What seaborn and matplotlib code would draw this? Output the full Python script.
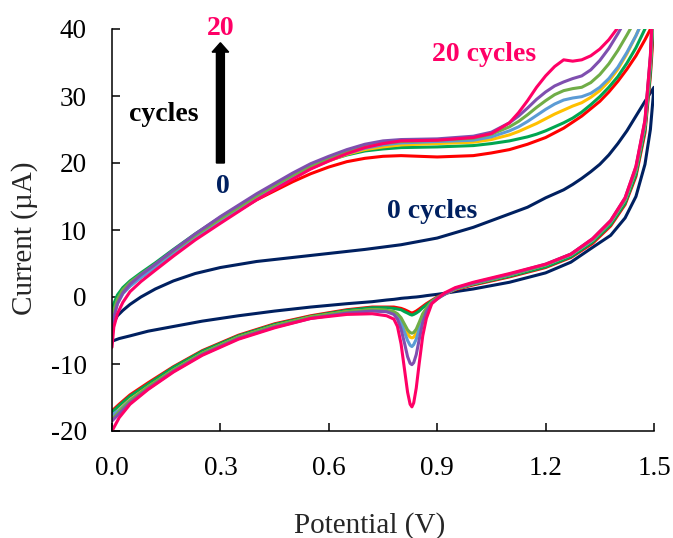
import numpy as np
import pandas as pd
import seaborn as sns
import matplotlib.pyplot as plt
from matplotlib.ticker import FormatStrFormatter

# potential grids (V): forward scan 0 -> 1.5, reverse scan 1.5 -> 0
fwd_v = [0.0, 0.005, 0.015, 0.03, 0.05, 0.08, 0.12, 0.17, 0.23, 0.3,
         0.4, 0.5, 0.55, 0.6, 0.65, 0.7, 0.75, 0.8, 0.9, 1.0,
         1.05, 1.1, 1.125, 1.15, 1.175, 1.2, 1.225, 1.25, 1.275, 1.3,
         1.325, 1.35, 1.375, 1.4, 1.425, 1.45, 1.475, 1.5]
rev_v = [1.5, 1.49, 1.475, 1.45, 1.42, 1.38, 1.33, 1.27, 1.2, 1.1,
         1.0, 0.95, 0.92, 0.9, 0.885, 0.87, 0.86, 0.85, 0.842, 0.835,
         0.83, 0.825, 0.818, 0.81, 0.8, 0.79, 0.78, 0.76, 0.72, 0.65,
         0.55, 0.45, 0.35, 0.25, 0.17, 0.1, 0.05, 0.02, 0.0]

# currents (uA)
navy_fwd = [-5.0, -3.8, -2.8, -2.0, -1.1, 0.0, 1.2, 2.4, 3.5, 4.4,
            5.3, 5.9, 6.2, 6.5, 6.8, 7.1, 7.45, 7.8, 8.8, 10.4,
            11.4, 12.4, 12.9, 13.4, 14.1, 14.8, 15.4, 16.0, 16.8, 17.7,
            18.7, 19.8, 21.2, 22.9, 24.8, 27.0, 29.2, 31.3]
navy_rev = [31.3, 25.0, 19.8, 15.0, 11.8, 9.2, 7.4, 5.2, 3.6, 2.2,
            1.2, 0.8, 0.55, 0.4, 0.3, 0.2, 0.12, 0.05, 0.0, -0.03,
            -0.05, -0.08, -0.12, -0.15, -0.2, -0.28, -0.35, -0.45, -0.7, -1.0,
            -1.5, -2.1, -2.8, -3.6, -4.4, -5.1, -5.8, -6.2, -6.6]

red_fwd = [-4.0, -2.0, -0.5, 0.8, 1.8, 3.0, 4.5, 6.5, 8.8, 11.3,
           14.5, 17.2, 18.4, 19.4, 20.2, 20.7, 21.0, 21.1, 20.9, 21.1,
           21.5, 22.0, 22.4, 22.8, 23.3, 23.8, 24.5, 25.2, 26.1, 27.0,
           28.1, 29.2, 30.6, 32.2, 34.0, 36.0, 38.4, 41.0]
red_rev = [41.0, 33.0, 24.5, 18.0, 13.8, 10.6, 8.0, 5.9, 4.4, 3.0,
           1.8, 1.1, 0.5, 0.0, -0.5, -1.0, -1.4, -1.8, -2.1, -2.3,
           -2.4, -2.3, -2.1, -1.9, -1.7, -1.6, -1.5, -1.5, -1.5, -1.9,
           -2.8, -4.0, -5.7, -8.0, -10.4, -12.8, -14.6, -16.0, -17.0]

green_fwd = [-3.0, -1.0, 0.3, 1.4, 2.4, 3.6, 5.1, 7.1, 9.4, 11.9,
             15.2, 18.1, 19.4, 20.4, 21.2, 21.8, 22.1, 22.3, 22.4, 22.6,
             22.9, 23.3, 23.6, 23.9, 24.3, 24.8, 25.4, 26.0, 26.7, 27.6,
             28.7, 29.9, 31.3, 32.9, 34.9, 37.2, 40.0, 43.0]
green_rev = [43.0, 33.5, 25.0, 18.3, 14.0, 10.8, 8.2, 6.0, 4.5, 3.1,
             1.9, 1.2, 0.5, -0.1, -0.6, -1.2, -1.6, -2.1, -2.4, -2.6,
             -2.7, -2.6, -2.4, -2.2, -1.9, -1.8, -1.7, -1.6, -1.6, -2.0,
             -2.9, -4.1, -5.8, -8.1, -10.5, -13.0, -14.8, -16.2, -17.2]

yellow_fwd = [-4.5, -2.5, -0.8, 0.6, 1.7, 3.0, 4.5, 6.5, 8.8, 11.3,
              14.7, 17.8, 19.2, 20.3, 21.3, 22.0, 22.4, 22.7, 22.9, 23.1,
              23.5, 24.2, 24.7, 25.3, 25.9, 26.6, 27.3, 27.9, 28.5, 29.0,
              29.8, 30.8, 32.2, 34.0, 36.3, 39.0, 42.0, 45.0]
yellow_rev = [45.0, 35.0, 25.8, 19.0, 14.5, 11.2, 8.5, 6.3, 4.8, 3.3,
              2.0, 1.2, 0.4, -0.2, -0.8, -1.8, -2.7, -4.2, -5.4, -6.0,
              -6.1, -6.0, -5.5, -4.5, -3.3, -2.6, -2.2, -2.0, -1.9, -2.2,
              -3.0, -4.3, -6.0, -8.4, -10.9, -13.4, -15.3, -16.8, -17.8]

blue_fwd = [-5.0, -2.8, -1.0, 0.5, 1.6, 2.9, 4.4, 6.4, 8.7, 11.2,
            14.6, 17.8, 19.2, 20.4, 21.4, 22.2, 22.7, 23.0, 23.2, 23.4,
            23.9, 24.8, 25.4, 26.2, 27.1, 28.0, 28.8, 29.4, 29.7, 29.9,
            30.4, 31.3, 32.6, 34.3, 36.5, 39.0, 42.0, 45.0]
blue_rev = [45.0, 35.0, 25.8, 19.0, 14.5, 11.2, 8.5, 6.3, 4.8, 3.3,
            2.0, 1.2, 0.4, -0.3, -0.85, -1.9, -3.0, -4.8, -6.3, -7.1,
            -7.4, -7.2, -6.5, -5.3, -3.8, -2.8, -2.4, -2.1, -2.0, -2.3,
            -3.1, -4.4, -6.1, -8.5, -11.0, -13.5, -15.4, -16.9, -17.6]

olive_fwd = [-4.0, -2.0, -0.3, 1.1, 2.2, 3.4, 4.9, 6.9, 9.2, 11.7,
             15.1, 18.2, 19.5, 20.7, 21.7, 22.5, 22.9, 23.2, 23.4, 23.7,
             24.3, 25.4, 26.2, 27.2, 28.3, 29.3, 30.2, 30.8, 31.1, 31.3,
             32.0, 33.2, 34.8, 36.8, 39.1, 41.5, 43.8, 46.0]
olive_rev = [46.0, 35.5, 26.0, 19.1, 14.6, 11.3, 8.6, 6.4, 4.8, 3.3,
             2.0, 1.2, 0.4, -0.1, -0.7, -1.7, -2.5, -3.8, -4.8, -5.3,
             -5.4, -5.3, -4.9, -4.1, -3.1, -2.5, -2.2, -2.0, -1.9, -2.2,
             -3.0, -4.3, -6.0, -8.4, -10.9, -13.4, -15.5, -17.1, -18.3]

purple_fwd = [-5.5, -3.0, -1.0, 0.6, 1.9, 3.3, 4.9, 7.0, 9.4, 12.0,
              15.4, 18.5, 19.9, 21.0, 22.0, 22.8, 23.3, 23.5, 23.6, 24.0,
              24.6, 26.0, 27.0, 28.2, 29.5, 30.6, 31.5, 32.1, 32.6, 33.0,
              33.9, 35.3, 37.1, 39.3, 41.7, 44.0, 46.0, 48.0]
purple_rev = [48.0, 36.0, 26.3, 19.4, 14.8, 11.4, 8.7, 6.4, 4.9, 3.4,
              2.1, 1.3, 0.4, -0.2, -0.9, -2.2, -3.8, -6.4, -8.6, -9.8,
              -10.1, -9.9, -8.9, -7.0, -4.8, -3.3, -2.6, -2.2, -2.1, -2.4,
              -3.2, -4.5, -6.2, -8.6, -11.1, -13.7, -15.8, -17.4, -18.5]

pink_fwd = [-7.5, -4.5, -2.5, -0.8, 0.8, 2.3, 4.0, 6.1, 8.5, 11.0,
            14.5, 17.6, 19.1, 20.3, 21.4, 22.3, 22.9, 23.3, 23.4, 23.8,
            24.4, 26.0, 27.5, 29.3, 31.3, 33.0, 34.4, 35.4, 35.2, 35.4,
            36.0, 37.0, 38.4, 40.2, 42.2, 44.0, 46.0, 48.0]
pink_rev = [48.0, 36.0, 26.4, 19.5, 14.8, 11.4, 8.7, 6.4, 4.9, 3.5,
            2.2, 1.4, 0.6, -0.3, -1.0, -3.2, -5.8, -10.0, -13.6, -15.8,
            -16.4, -16.0, -14.2, -11.0, -7.0, -4.4, -3.3, -2.8, -2.5, -2.6,
            -3.2, -4.6, -6.3, -8.7, -11.2, -13.8, -16.0, -18.0, -20.0]

curve_names = ["0 cycles", "c1", "c2", "c3", "c4", "c5", "c6", "20 cycles"]
curve_colors = ["#002060", "#FF0000", "#00A650", "#FFC000", "#5B9BD5", "#70AD47",
                "#7F4FAF", "#FF0066"]
curve_fwd = [navy_fwd, red_fwd, green_fwd, yellow_fwd, blue_fwd, olive_fwd, purple_fwd, pink_fwd]
curve_rev = [navy_rev, red_rev, green_rev, yellow_rev, blue_rev, olive_rev, purple_rev, pink_rev]

frames = []
for name, f, r in zip(curve_names, curve_fwd, curve_rev):
    frames.append(pd.DataFrame({"potential": fwd_v + rev_v[1:],
                                "current": f + r[1:],
                                "curve": name}))
df = pd.concat(frames, ignore_index=True)

sns.set_theme(style="ticks")
plt.rcParams["font.family"] = ["Liberation Serif", "DejaVu Serif"]
plt.rcParams["axes.unicode_minus"] = False

fig, ax = plt.subplots(figsize=(6.73, 5.38), dpi=100)
fig.subplots_adjust(left=112/673, right=654/673, top=1-29/538, bottom=1-431/538)

sns.lineplot(data=df, x="potential", y="current", hue="curve", hue_order=curve_names,
             palette=curve_colors, sort=False, estimator=None, linewidth=2.2,
             solid_joinstyle="round", legend=False, ax=ax)

ax.set_xlim(0, 1.5)
ax.set_ylim(-20, 40)
ax.set_xticks(np.arange(0, 1.51, 0.3))
ax.set_yticks(np.arange(-20, 41, 10))
ax.xaxis.set_major_formatter(FormatStrFormatter("%.1f"))
ax.tick_params(direction="in", length=6, width=1.1, labelsize=19.5, pad=18, colors="black")
sns.despine(ax=ax)
for s in ["left", "bottom"]:
    ax.spines[s].set_linewidth(1.1)
    ax.spines[s].set_color("black")

ax.set_xlabel("Potential (V)", fontsize=21, va="baseline")
ax.xaxis.set_label_coords(0.476, -0.254)
ax.set_ylabel("Current (\u00b5A)", fontsize=21, va="center")
ax.yaxis.set_label_coords(-0.1605, 0.48)

# annotations
ax.arrow(0.3, 20.0, 0, 17.95, width=0.022, head_width=0.046, head_length=1.4,
         length_includes_head=True, fc="black", ec="black", clip_on=False)
ax.text(0.302, 39.1, "20", color="#FF0066", fontsize=20, fontweight="bold",
        ha="center", va="baseline", clip_on=False)
ax.text(0.306, 15.5, "0", color="#002060", fontsize=20, fontweight="bold",
        ha="center", va="baseline")
ax.text(0.144, 26.2, "cycles", color="black", fontsize=20, fontweight="bold",
        ha="center", va="baseline")
ax.text(1.030, 35.2, "20 cycles", color="#FF0066", fontsize=20, fontweight="bold",
        ha="center", va="baseline")
ax.text(0.885, 11.75, "0 cycles", color="#002060", fontsize=20, fontweight="bold",
        ha="center", va="baseline")

fig.savefig("out.png", dpi=100)
